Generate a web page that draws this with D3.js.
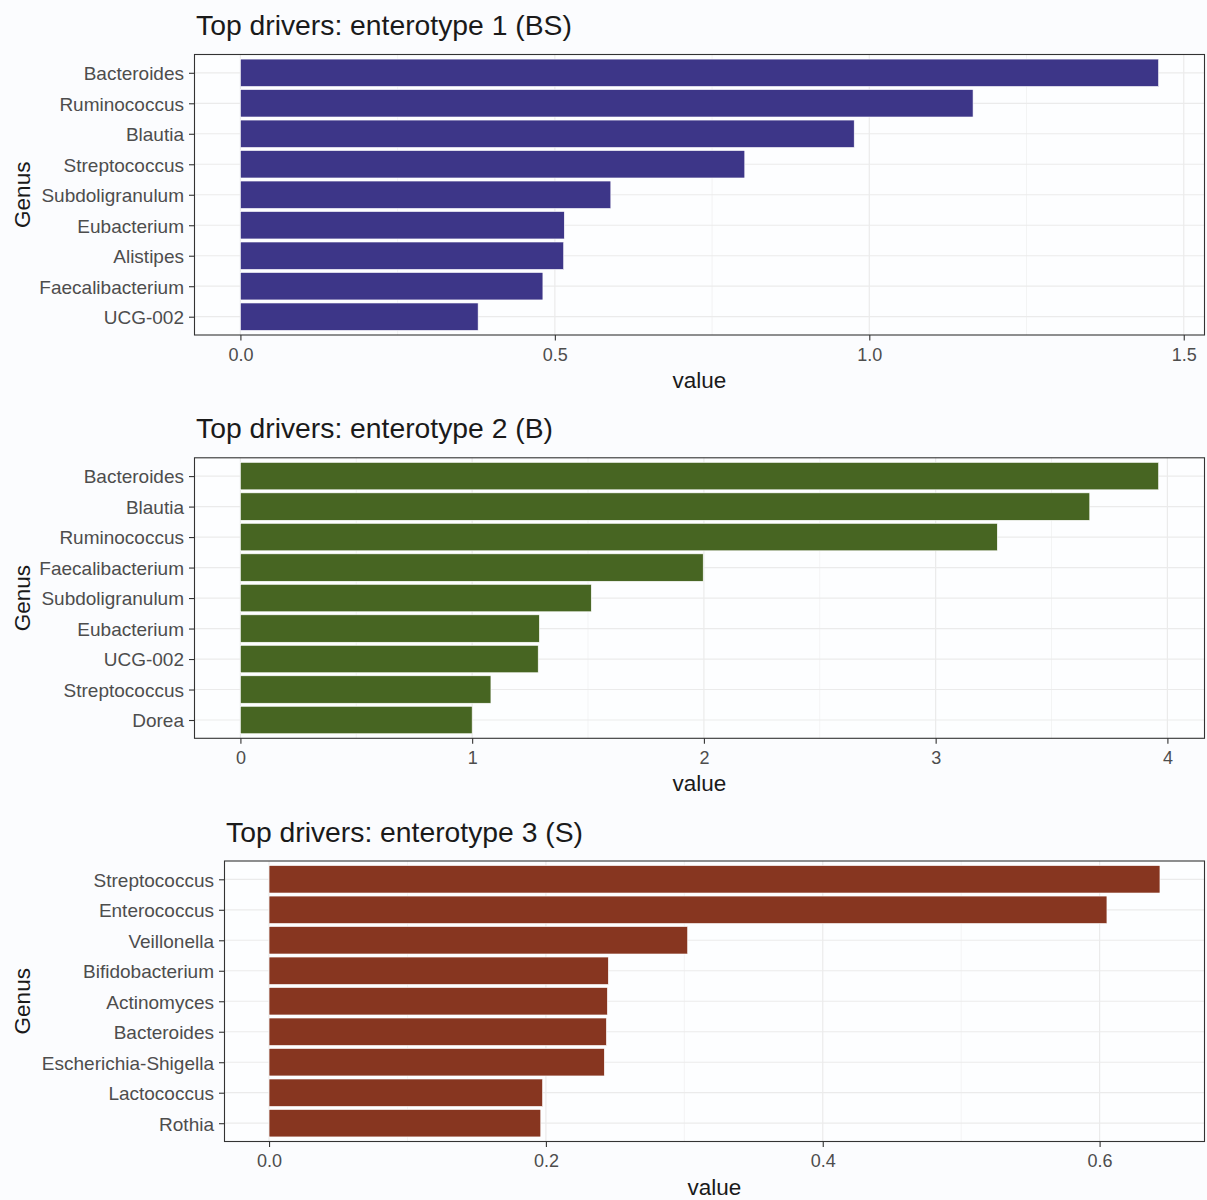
<!DOCTYPE html>
<html>
<head>
<meta charset="utf-8">
<script src="https://cdn.jsdelivr.net/npm/d3@7"></script>
<style>
  html, body { margin: 0; padding: 0; background: #fbfcfe; }
  svg { display: block; font-family: "Liberation Sans", Arial, Helvetica, sans-serif; }
</style>
</head>
<body>
<svg id="chart" width="1207" height="1200"></svg>
<script>
// Enterotype 1 (BS)
const genera1 = ["Bacteroides", "Ruminococcus", "Blautia", "Streptococcus", "Subdoligranulum",
                 "Eubacterium", "Alistipes", "Faecalibacterium", "UCG-002"];
const values1 = [1.460, 1.165, 0.976, 0.802, 0.589, 0.515, 0.514, 0.481, 0.378];
const ticks1 = [0, 0.5, 1.0, 1.5];
const tickLabels1 = ["0.0", "0.5", "1.0", "1.5"];

// Enterotype 2 (B)
const genera2 = ["Bacteroides", "Blautia", "Ruminococcus", "Faecalibacterium", "Subdoligranulum",
                 "Eubacterium", "UCG-002", "Streptococcus", "Dorea"];
const values2 = [3.962, 3.665, 3.266, 1.997, 1.514, 1.290, 1.285, 1.081, 1.000];
const ticks2 = [0, 1, 2, 3, 4];
const tickLabels2 = ["0", "1", "2", "3", "4"];

// Enterotype 3 (S)
const genera3 = ["Streptococcus", "Enterococcus", "Veillonella", "Bifidobacterium", "Actinomyces",
                 "Bacteroides", "Escherichia-Shigella", "Lactococcus", "Rothia"];
const values3 = [0.6436, 0.6053, 0.3024, 0.2451, 0.2444, 0.2437, 0.2422, 0.1976, 0.1963];
const ticks3 = [0, 0.2, 0.4, 0.6];
const tickLabels3 = ["0.0", "0.2", "0.4", "0.6"];

const titles = ["Top drivers: enterotype 1 (BS)", "Top drivers: enterotype 2 (B)", "Top drivers: enterotype 3 (S)"];
const fills = ["#3d3688", "#476522", "#873620"];

const panels = [
  { genera: genera1, values: values1, ticks: ticks1, labels: tickLabels1, title: titles[0], fill: fills[0],
    left: 194.5, top: 54.5, bottom: 335 },
  { genera: genera2, values: values2, ticks: ticks2, labels: tickLabels2, title: titles[1], fill: fills[1],
    left: 194.5, top: 457.8, bottom: 738.3 },
  { genera: genera3, values: values3, ticks: ticks3, labels: tickLabels3, title: titles[2], fill: fills[2],
    left: 224.5, top: 861, bottom: 1141.5 }
];
const right = 1204.5;

const svg = d3.select("#chart");
svg.append("rect").attr("width", 1207).attr("height", 1200).attr("fill", "#fbfcfe");

panels.forEach(p => {
  const g = svg.append("g");
  const maxV = d3.max(p.values);
  // 5% expansion on both sides of the value range
  const x = d3.scaleLinear()
    .domain([-0.05 * maxV, 1.05 * maxV])
    .range([p.left, right]);
  // discrete axis with 0.6 units padding on each end
  const y = d3.scalePoint()
    .domain(p.genera)
    .range([p.top, p.bottom])
    .padding(0.6);
  const barH = y.step() * 0.9;

  // panel background
  g.append("rect")
    .attr("x", p.left).attr("y", p.top)
    .attr("width", right - p.left).attr("height", p.bottom - p.top)
    .attr("fill", "#fdfeff");

  // minor gridlines at midpoints between major ticks
  const minor = [];
  for (let i = 0; i < p.ticks.length - 1; i++) minor.push((p.ticks[i] + p.ticks[i + 1]) / 2);
  g.selectAll(".minor").data(minor).join("line")
    .attr("x1", d => x(d)).attr("x2", d => x(d))
    .attr("y1", p.top).attr("y2", p.bottom)
    .attr("stroke", "#ededed").attr("stroke-width", 0.6);

  // major gridlines
  g.selectAll(".majx").data(p.ticks).join("line")
    .attr("x1", d => x(d)).attr("x2", d => x(d))
    .attr("y1", p.top).attr("y2", p.bottom)
    .attr("stroke", "#ebebeb").attr("stroke-width", 1.2);
  g.selectAll(".majy").data(p.genera).join("line")
    .attr("x1", p.left).attr("x2", right)
    .attr("y1", d => y(d)).attr("y2", d => y(d))
    .attr("stroke", "#ebebeb").attr("stroke-width", 1.2);

  // bars
  g.selectAll(".bar").data(p.genera).join("rect")
    .attr("x", x(0))
    .attr("y", d => y(d) - barH / 2)
    .attr("width", (d, i) => x(p.values[i]) - x(0))
    .attr("height", barH)
    .attr("fill", p.fill)
    .attr("stroke", "#ffffff")
    .attr("stroke-width", 0.6);

  // panel border
  g.append("rect")
    .attr("x", p.left).attr("y", p.top)
    .attr("width", right - p.left).attr("height", p.bottom - p.top)
    .attr("fill", "none").attr("stroke", "#333333").attr("stroke-width", 1.1);

  // x axis
  const xAxis = d3.axisBottom(x)
    .tickValues(p.ticks)
    .tickFormat((d, i) => p.labels[i])
    .tickSize(5.5)
    .tickPadding(7.5);
  const xa = g.append("g").attr("transform", `translate(0,${p.bottom})`).call(xAxis);
  xa.select(".domain").remove();
  xa.selectAll(".tick line").attr("stroke", "#333333").attr("stroke-width", 1.1);
  xa.selectAll(".tick text")
    .attr("fill", "#4d4d4d")
    .style("font-size", "18px")
    .style("font-family", "'Liberation Sans', Arial, sans-serif");

  // y axis
  const yAxis = d3.axisLeft(y).tickSize(5.5).tickPadding(5);
  const ya = g.append("g").attr("transform", `translate(${p.left},0)`).call(yAxis);
  ya.select(".domain").remove();
  ya.selectAll(".tick line").attr("stroke", "#333333").attr("stroke-width", 1.1);
  ya.selectAll(".tick text")
    .attr("fill", "#4d4d4d")
    .attr("dy", "0.36em")
    .style("font-size", "19px")
    .style("font-family", "'Liberation Sans', Arial, sans-serif");

  // axis titles
  g.append("text")
    .attr("x", (p.left + right) / 2)
    .attr("y", p.bottom + 53)
    .attr("text-anchor", "middle")
    .attr("fill", "#1a1a1a")
    .style("font-size", "22.5px")
    .text("value");
  g.append("text")
    .attr("transform", `translate(30,${(p.top + p.bottom) / 2}) rotate(-90)`)
    .attr("text-anchor", "middle")
    .attr("fill", "#1a1a1a")
    .style("font-size", "22.5px")
    .text("Genus");

  // panel title
  g.append("text")
    .attr("x", p.left + 1.5)
    .attr("y", p.top - 19.5)
    .attr("fill", "#1a1a1a")
    .style("font-size", "28.3px")
    .text(p.title);
});
</script>
</body>
</html>
